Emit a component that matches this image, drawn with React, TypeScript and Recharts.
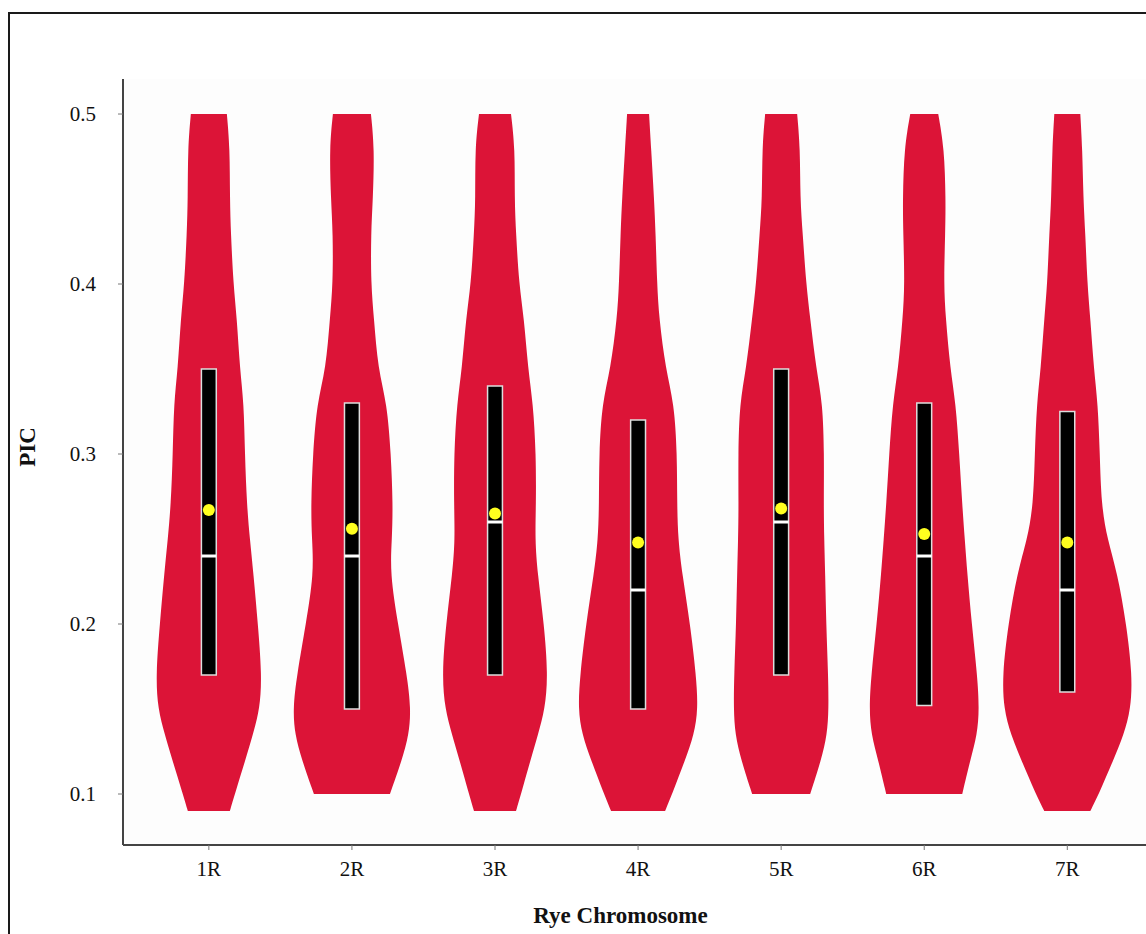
import React from 'react';
import {
  ComposedChart,
  XAxis,
  YAxis,
  Area,
  ReferenceArea,
  ReferenceLine,
  ReferenceDot,
  CartesianGrid,
  Label,
} from 'recharts';

const categories = ['1R', '2R', '3R', '4R', '5R', '6R', '7R'];
const yTicks = [0.1, 0.2, 0.3, 0.4, 0.5];

// PIC levels (top to bottom) at which the violin half-widths were read
const levels = [0.5, 0.48, 0.45, 0.43, 0.4, 0.38, 0.35, 0.33, 0.3, 0.27, 0.25, 0.23, 0.2, 0.17, 0.15, 0.135, 0.12, 0.1, 0.09];

const density1R = [18, 21, 21, 22, 24.5, 28, 31, 35, 36, 38, 41, 44.5, 49, 53, 51, 44, 36.5, 26, 21];
const density2R = [19, 22.5, 21, 19, 19, 22, 26, 35, 39, 41, 40, 38, 46, 55, 59, 57, 50, 38];
const density3R = [16, 20, 19.5, 21, 24, 29, 33, 38, 41, 41, 40, 42.5, 49, 53, 50, 43, 35.5, 26, 21];
const density4R = [11, 13, 16, 17.5, 19, 21, 27.5, 36, 39, 39, 40, 44, 52, 58, 60, 56, 47, 34, 27];
const density5R = [16, 19, 19, 21.5, 25, 29, 35, 41.5, 43, 42.5, 43, 44, 45, 47, 47.5, 46, 40, 29];
const density6R = [14, 20, 21.5, 21, 19.5, 21.5, 26, 31.5, 35, 38, 40.5, 43, 47.5, 53, 55, 53, 46, 38];
const density7R = [13, 15, 16, 18, 20, 23, 26.5, 30.5, 32.5, 34, 40, 50, 59, 65, 63.5, 56.5, 46, 31.5, 23];

const q1 = [0.17, 0.15, 0.17, 0.15, 0.17, 0.152, 0.16];
const q3 = [0.35, 0.33, 0.34, 0.32, 0.35, 0.33, 0.325];
const medians = [0.24, 0.24, 0.26, 0.22, 0.26, 0.24, 0.22];
const means = [0.267, 0.256, 0.265, 0.248, 0.268, 0.253, 0.248];

const densities = [density1R, density2R, density3R, density4R, density5R, density6R, density7R];
const widthScale = 1 / 143;
const boxHalf = 0.052;
const violinColor = '#dc1437';
const serif = '"Liberation Serif", "Times New Roman", serif';

const violinData = densities.map((dens, i) =>
  dens.map((d, k) => ({
    v: levels[k],
    w: [i + 1 - d * widthScale, i + 1 + d * widthScale],
  }))
);

const App = () => {
  return (
    <div
      style={{
        position: 'absolute',
        left: 8,
        top: 12,
        width: 1138,
        height: 922,
        borderTop: '2px solid #1a1a1a',
        borderLeft: '2px solid #1a1a1a',
        overflow: 'hidden',
        background: '#fff',
      }}
    >
      <ComposedChart
        layout="vertical"
        width={1136}
        height={920}
        margin={{ top: 65, right: 0, bottom: 9, left: 13 }}
      >
        <CartesianGrid horizontal={false} vertical={false} fill="#fdfdfd" />
        <XAxis
          type="number"
          domain={[0.4, 7.55]}
          allowDataOverflow
          ticks={[1, 2, 3, 4, 5, 6, 7]}
          tickFormatter={(t) => categories[t - 1]}
          height={80}
          tickSize={5}
          tickMargin={11}
          axisLine={{ stroke: '#444', strokeWidth: 2 }}
          tickLine={{ stroke: '#777' }}
          tick={{ fill: '#111', fontSize: 21, fontFamily: serif }}
        >
          <Label
            content={({ viewBox }: any) => (
              <text
                x={viewBox.x + viewBox.width / 2 - 14}
                y={viewBox.y + 78}
                textAnchor="middle"
                fontFamily={serif}
                fontWeight="bold"
                fontSize={23}
                fill="#111"
              >
                Rye Chromosome
              </text>
            )}
          />
        </XAxis>
        <YAxis
          type="number"
          dataKey="v"
          reversed
          domain={[0.07, 0.5206]}
          allowDataOverflow
          ticks={yTicks}
          tickFormatter={(t) => t.toFixed(1)}
          width={100}
          tickSize={5}
          tickMargin={22}
          axisLine={{ stroke: '#444', strokeWidth: 2 }}
          tickLine={{ stroke: '#777' }}
          tick={{ fill: '#111', fontSize: 21, fontFamily: serif }}
        >
          <Label
            content={({ viewBox }: any) => {
              const x = viewBox.x + 12;
              const y = viewBox.y + viewBox.height / 2 - 15;
              return (
                <text
                  x={x}
                  y={y}
                  transform={`rotate(-90, ${x}, ${y})`}
                  textAnchor="middle"
                  fontFamily={serif}
                  fontWeight="bold"
                  fontSize={23}
                  fill="#111"
                >
                  PIC
                </text>
              );
            }}
          />
        </YAxis>

        {violinData.map((d, i) => (
          <Area
            key={categories[i]}
            data={d}
            dataKey="w"
            type="basis"
            fill={violinColor}
            fillOpacity={1}
            stroke="none"
            dot={false}
            activeDot={false}
            isAnimationActive={false}
          />
        ))}

        {categories.map((c, i) => (
          <ReferenceArea
            key={`box-${c}`}
            x1={i + 1 - boxHalf}
            x2={i + 1 + boxHalf}
            y1={q1[i]}
            y2={q3[i]}
            fill="#000"
            fillOpacity={1}
            stroke="#dddddd"
            strokeWidth={1.5}
          />
        ))}
        {categories.map((c, i) => (
          <ReferenceLine
            key={`med-${c}`}
            segment={[
              { x: i + 1 - boxHalf, y: medians[i] },
              { x: i + 1 + boxHalf, y: medians[i] },
            ]}
            stroke="#fff"
            strokeWidth={3}
          />
        ))}
        {categories.map((c, i) => (
          <ReferenceDot
            key={`mean-${c}`}
            x={i + 1}
            y={means[i]}
            r={6}
            fill="#ffff1f"
            stroke="none"
          />
        ))}
      </ComposedChart>
    </div>
  );
};

export default App;
